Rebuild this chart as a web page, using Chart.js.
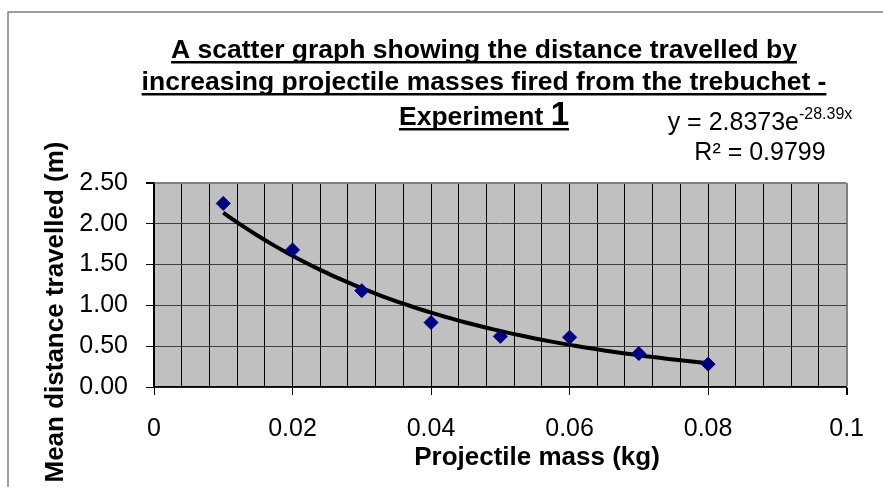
<!DOCTYPE html>
<html>
<head>
<meta charset="utf-8">
<script src="https://cdn.jsdelivr.net/npm/chart.js@4/dist/chart.umd.min.js"></script>
<style>
  html, body { margin: 0; padding: 0; background: #fff; }
  #wrap { width: 883px; height: 487px; }
</style>
</head>
<body>
<div id="wrap"><canvas id="massChart" width="883" height="487"></canvas></div>
<script>
// Mean distance per projectile mass (experiment 1)
const masses = [0.01, 0.02, 0.03, 0.04, 0.05, 0.06, 0.07, 0.08];
const meanDistances = [2.25, 1.68, 1.18, 0.79, 0.62, 0.61, 0.41, 0.28];

// Exponential trendline: y = a * e^(b x)
const fitA = 2.8373;
const fitB = -28.39;
const fitR2 = 0.9799;

const titleLines = [
  "A scatter graph showing the distance travelled by",
  "increasing projectile masses fired from the trebuchet -",
];
const titleLast = ["Experiment ", "1"];
const xTitle = "Projectile mass (kg)";
const yTitle = "Mean distance travelled (m)";

const FONT = "'Liberation Sans', Arial, sans-serif";

// trendline between the first and last mass, from the fitted equation
const trendPoints = [];
for (let i = 0; i <= 70; i++) {
  const x = masses[0] + i * 0.001;
  trendPoints.push({ x: x, y: fitA * Math.exp(fitB * x) });
}

const isMajor = (v) => Math.round(v * 1000) % 20 === 0;

// grey plot area + outer chart border
const plotBackground = {
  id: "plotBackground",
  beforeDraw(chart) {
    const { ctx, chartArea: a } = chart;
    ctx.save();
    ctx.fillStyle = "#fff";
    ctx.fillRect(0, 0, chart.width, chart.height);
    ctx.strokeStyle = "#808080";
    ctx.lineWidth = 1.5;
    ctx.strokeRect(8, 12, 2000, 2000);
    ctx.fillStyle = "#c0c0c0";
    ctx.fillRect(a.left, a.top, a.right - a.left, a.bottom - a.top);
    ctx.restore();
  },
};

function underlined(ctx, parts, cx, y) {
  const widths = parts.map((p) => {
    ctx.font = p.font;
    return ctx.measureText(p.text).width;
  });
  const total = widths.reduce((s, w) => s + w, 0);
  let x = cx - total / 2;
  parts.forEach((p, i) => {
    ctx.font = p.font;
    ctx.fillText(p.text, x, y);
    x += widths[i];
  });
  ctx.fillRect(cx - total / 2, y + 3, total, 2.5);
}

// titles, axis titles and trendline label
const chartText = {
  id: "chartText",
  afterDraw(chart) {
    const { ctx } = chart;
    ctx.save();
    ctx.fillStyle = "#000";
    ctx.textBaseline = "alphabetic";
    ctx.textAlign = "left";

    const tFont = "bold 26.5px " + FONT;
    underlined(ctx, [{ text: titleLines[0], font: tFont }], 484, 58);
    underlined(ctx, [{ text: titleLines[1], font: tFont }], 484, 90);
    underlined(ctx, [
      { text: titleLast[0], font: tFont },
      { text: titleLast[1], font: "bold 33px " + FONT },
    ], 484, 125);

    // trendline equation, centred over the R² line
    const eqX = 760;
    ctx.font = "25px " + FONT;
    const base = "y = " + fitA + "e";
    const sup = String(fitB) + "x";
    const wBase = ctx.measureText(base).width;
    ctx.font = "16px " + FONT;
    const wSup = ctx.measureText(sup).width;
    const ex = eqX - (wBase + wSup) / 2;
    ctx.font = "25px " + FONT;
    ctx.fillText(base, ex, 130);
    ctx.font = "16px " + FONT;
    ctx.fillText(sup, ex + wBase, 119);
    ctx.font = "25px " + FONT;
    ctx.textAlign = "center";
    ctx.fillText("R\u00b2 = " + fitR2, eqX, 160);

    // axis titles
    ctx.font = "bold 26px " + FONT;
    ctx.fillText(xTitle, 537, 465);
    ctx.translate(63, 312);
    ctx.rotate(-Math.PI / 2);
    ctx.fillText(yTitle, 0, 0);
    ctx.restore();
  },
};

new Chart(document.getElementById("massChart"), {
  type: "scatter",
  data: {
    datasets: [
      {
        label: "Mean distance travelled",
        data: masses.map((m, i) => ({ x: m, y: meanDistances[i] })),
        pointStyle: "rectRot",
        pointRadius: 7,
        backgroundColor: "#000080",
        borderColor: "#000080",
        borderWidth: 1,
        order: 0,
      },
      {
        label: "Expon. trendline",
        type: "line",
        data: trendPoints,
        borderColor: "#000",
        borderWidth: 4,
        pointRadius: 0,
        fill: false,
        tension: 0,
        order: 1,
      },
    ],
  },
  options: {
    responsive: false,
    animation: false,
    devicePixelRatio: 1,
    layout: { padding: { top: 183, right: 29, left: 0, bottom: 0 } },
    plugins: {
      legend: { display: false },
      tooltip: { enabled: false },
    },
    scales: {
      x: {
        type: "linear",
        min: 0,
        max: 0.1,
        afterFit: (s) => { s.height = 100; },
        ticks: {
          stepSize: 0.004,
          autoSkip: false,
          maxRotation: 0,
          color: "#000",
          padding: 19,
          font: { family: FONT, size: 25 },
          callback: (v) => (isMajor(v) ? String(+v.toFixed(2)) : ""),
        },
        grid: {
          color: (c) => (c.tick && Math.abs(c.tick.value - 0.1) < 1e-9 ? "#808080" : "#000"),
          lineWidth: (c) => (c.tick && Math.abs(c.tick.value - 0.1) < 1e-9 ? 2 : 1),
          tickLength: 8,
          tickColor: (c) => (c.tick && isMajor(c.tick.value) ? "#000" : "rgba(0,0,0,0)"),
        },
        border: { color: "#000", width: 1.5 },
      },
      y: {
        min: 0,
        max: 2.5,
        afterFit: (s) => { s.width = 154; },
        ticks: {
          stepSize: 0.5,
          color: "#000",
          padding: 18,
          font: { family: FONT, size: 25 },
          callback: (v) => v.toFixed(2),
        },
        grid: {
          color: (c) => (c.tick && c.tick.value === 2.5 ? "#808080" : "#404040"),
          lineWidth: (c) => (c.tick && c.tick.value === 2.5 ? 2 : 1),
          tickLength: 8,
          tickColor: "#000",
        },
        border: { color: "#000", width: 1.5 },
      },
    },
  },
  plugins: [plotBackground, chartText],
});
</script>
</body>
</html>
